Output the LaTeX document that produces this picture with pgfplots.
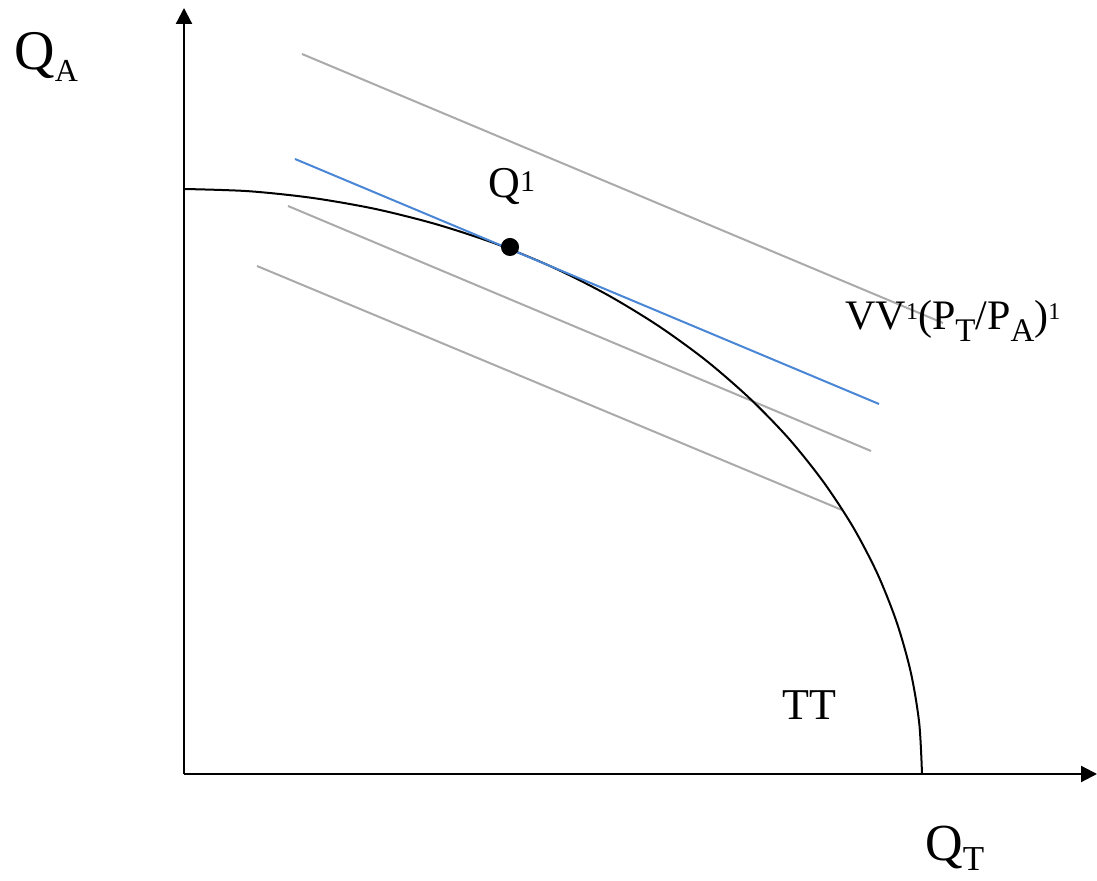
\documentclass[border=0pt]{standalone}
\usepackage{pgfplots}
\pgfplotsset{compat=1.18}
\usetikzlibrary{arrows.meta}
\usepackage{fontspec}
\setmainfont{Liberation Serif}

\definecolor{budget}{RGB}{74,134,214}
\definecolor{iso}{RGB}{170,170,170}

% text helpers: size in pt
\newcommand{\tx}[2]{{\fontsize{#1}{#1}\selectfont #2}}
\newcommand{\dn}[3]{\raisebox{-#2}{\fontsize{#1}{#1}\selectfont #3}}
\newcommand{\up}[3]{\raisebox{#2}{\fontsize{#1}{#1}\selectfont #3}}

\begin{document}
\begin{tikzpicture}
  \begin{axis}[
    scale only axis,
    width = 548.5pt,
    height = 440.5pt,
    xmin = 0, xmax = 1097,
    ymin = 0, ymax = 881,
    hide axis,
    clip = false,
  ]
    % axes
    \addplot[black, line width=1.1pt, -{Triangle[width=8pt,length=8pt]}]
      coordinates { (184,107) (184,873) };
    \addplot[black, line width=1.1pt, -{Triangle[width=8pt,length=8pt]}]
      coordinates { (184,107) (1097,107) };

    % iso-value lines
    \addplot[iso, line width=1pt] coordinates { (302,827) (943,558) };
    \addplot[iso, line width=1pt] coordinates { (288,675) (871,430) };
    \addplot[iso, line width=1pt] coordinates { (257,615) (842,371) };

    % transformation curve TT
    \addplot[black, line width=1pt, smooth] coordinates {
      (184,692) (248.4,689.8) (312.1,683.1) (375.0,672.1) (436.4,656.7)
      (495.9,637.2) (553.0,613.6) (607.3,586.2) (658.4,555.1) (705.8,520.7)
      (749.3,483.0) (788.6,442.6) (823.1,399.5) (852.9,354.2) (877.5,307.1)
      (896.8,258.4) (910.8,208.6) (919.2,158.0) (922,107)
    };

    % price line
    \addplot[budget, line width=1pt] coordinates { (295,722) (879,477) };

    % tangency point
    \addplot[only marks, mark=*, mark size=4.3pt, black] coordinates { (510,634) };

    % labels
    \node[anchor=base west, inner sep=0pt] at (axis cs:14,811)
      {\tx{28}{Q}\dn{16}{6pt}{A}};
    \node[anchor=base west, inner sep=0pt] at (axis cs:925,20)
      {\tx{26}{Q}\dn{17.5}{5pt}{T}};
    \node[anchor=base west, inner sep=0pt] at (axis cs:488,683)
      {\tx{22}{Q}\up{15}{3pt}{1}};
    \node[anchor=base west, inner sep=0pt] at (axis cs:782,161)
      {\tx{22}{TT}};
    \node[anchor=base west, inner sep=0pt] at (axis cs:845,551)
      {\tx{21}{VV}\up{12}{5pt}{1}\tx{21}{(P}\dn{16.5}{6pt}{T}\tx{21}{/P}\dn{16.5}{6pt}{A}\tx{21}{)}\up{12}{5pt}{1}};
  \end{axis}
  \pgfresetboundingbox
  \path (0,0) rectangle (548.5pt,440.5pt);
\end{tikzpicture}
\end{document}
